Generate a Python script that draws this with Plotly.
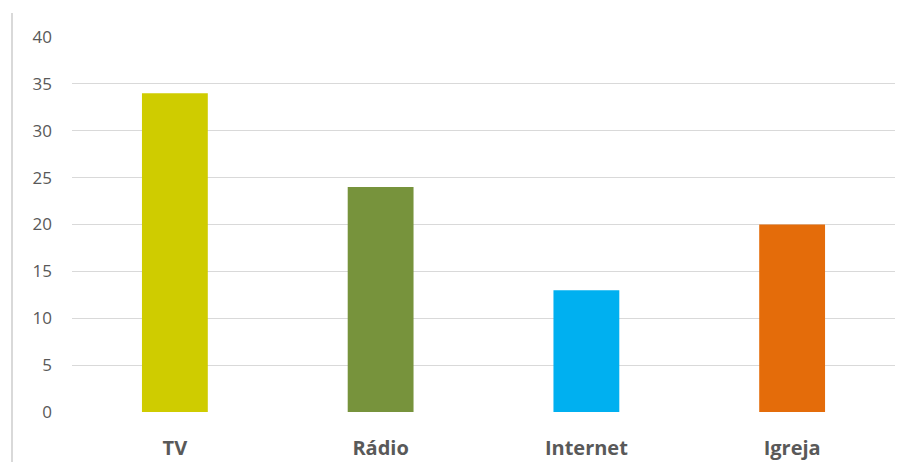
import plotly.graph_objects as go

categories = ["TV", "Rádio", "Internet", "Igreja"]
values = [34, 24, 13, 20]
colors = ["#CFCC00", "#77933C", "#00B0F0", "#E46C0A"]
y_ticks = [0, 5, 10, 15, 20, 25, 30, 35, 40]

fig = go.Figure(go.Bar(x=categories, y=values, marker=dict(color=colors, line=dict(width=0)), width=0.32))

# page body has an 8px default margin, so margins are offset by 8px
L, T, PW, PH = 64, 29, 823, 375
fig.update_layout(
    width=907, height=468,
    margin=dict(l=L, r=907 - L - PW, t=T, b=468 - T - PH),
    paper_bgcolor="white", plot_bgcolor="white",
    showlegend=False,
    font=dict(family="Open Sans, sans-serif", color="#595959"),
    xaxis=dict(
        showgrid=False, showline=False, zeroline=False,
        tickfont=dict(size=20, color="#595959", family="Open Sans, sans-serif", weight="bold"),
        ticks="", ticklabelstandoff=22,
    ),
    yaxis=dict(
        range=[0, 40], tickvals=y_ticks, ticktext=[str(v) for v in y_ticks],
        showgrid=True, gridcolor="#D9D9D9", gridwidth=1,
        zeroline=False, showline=False, ticks="",
        tickfont=dict(size=17, color="#595959", family="Open Sans, sans-serif"),
        ticklabelstandoff=19,
    ),
    shapes=[dict(type="line", xref="paper", yref="paper",
                 x0=(12 - 72) / PW, x1=(12 - 72) / PW,
                 y0=(412 - 462) / PH, y1=(412 - 13) / PH,
                 line=dict(color="#D9D9D9", width=2))],
)
fig.update_traces(hoverinfo="skip")

fig.write_html("out.html")
